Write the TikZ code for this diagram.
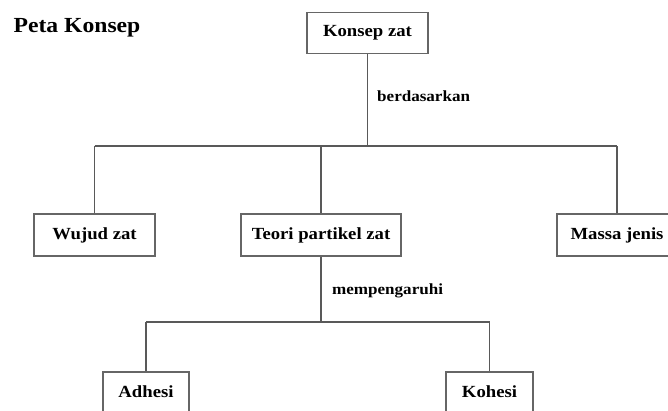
\documentclass[tikz,border=0pt]{standalone}
\usepackage{fontspec}
\setmainfont{Liberation Serif}[FakeStretch=1.1]
\begin{document}
\begin{tikzpicture}[
	x=1pt, y=-1pt,
	concept/.style={ draw=black!60, line width=1.3pt, font=\bfseries\fontsize{17}{19}\selectfont, inner sep=0pt, minimum height=42pt },
	linklabel/.style={ font=\bfseries\fontsize{15.5}{17}\selectfont, anchor=west, inner sep=0pt },
	link/.style={ draw=black!65, line width=1.3pt }
]
\useasboundingbox (0,0) rectangle (668,410);
\clip (0,0) rectangle (668,410);

\node at (77,28) (title) [font=\bfseries\fontsize{21.5}{24}\selectfont] {Peta Konsep};

\node at (367.5,33) (konsep) [concept,minimum width=121pt,minimum height=41pt] {Konsep zat};

\node at (94.5,235) (wujud) [concept,minimum width=121pt] {Wujud zat};
\node at (321,235) (teori) [concept,minimum width=160pt] {Teori partikel zat};
\node at (617,235) (massa) [concept,minimum width=120pt] {Massa jenis};

\node at (146,392) (adhesi) [concept,minimum width=86pt,minimum height=40pt] {Adhesi};
\node at (489.5,392) (kohesi) [concept,minimum width=87pt,minimum height=40pt] {Kohesi};

% first level
\coordinate (bar1) at (konsep.south |- 0,146);
\draw[link] (konsep) -- (bar1);
\draw[link] (wujud.north |- bar1) -- (massa.north |- bar1);
\foreach \p in {wujud,teori,massa} \draw[link] (\p.north |- bar1) -- (\p);
\node at (377,96) (lbl1) [linklabel] {berdasarkan};

% second level
\coordinate (bar2) at (teori.south |- 0,322);
\draw[link] (teori) -- (bar2);
\draw[link] (adhesi.north |- bar2) -- (kohesi.north |- bar2);
\foreach \p in {adhesi,kohesi} \draw[link] (\p.north |- bar2) -- (\p);
\node at (332,291) (lbl2) [linklabel] {mempengaruhi};

\end{tikzpicture}
\end{document}
